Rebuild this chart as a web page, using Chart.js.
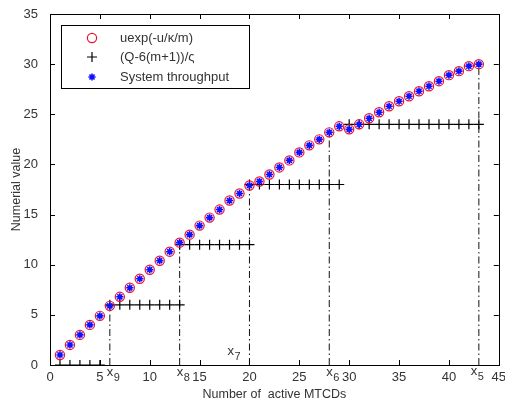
<!DOCTYPE html>
<html>
<head>
<meta charset="utf-8">
<script src="https://cdn.jsdelivr.net/npm/chart.js@4/dist/chart.umd.min.js"></script>
<style>
  body { margin: 0; background: #fff; }
  #wrap { width: 505px; height: 402px; }
</style>
</head>
<body>
<div id="wrap"><canvas id="chart"></canvas></div>
<script>
const mtcdCount = [1, 2, 3, 4, 5, 6, 7, 8, 9, 10, 11, 12, 13, 14, 15, 16, 17, 18, 19, 20, 21, 22,
    23, 24, 25, 26, 27, 28, 29, 30, 31, 32, 33, 34, 35, 36, 37, 38, 39, 40, 41, 42, 43];
const uexpValues = [1.0, 2.0, 3.0, 4.0, 4.9, 5.9, 6.8, 7.7, 8.6, 9.5, 10.4, 11.3, 12.2, 13.0, 13.9,
    14.7, 15.5, 16.4, 17.1, 17.9, 18.3, 19.0, 19.7, 20.4, 21.2, 21.9, 22.5, 23.2, 23.8, 23.5,
    24.0, 24.6, 25.2, 25.8, 26.3, 26.8, 27.3, 27.8, 28.3, 28.9, 29.3, 29.8, 30.0];
const throughputValues = [1.0, 2.0, 3.0, 4.0, 4.9, 5.9, 6.8, 7.7, 8.6, 9.5, 10.4, 11.3, 12.2, 13.0, 13.9,
    14.7, 15.5, 16.4, 17.1, 17.9, 18.3, 19.0, 19.7, 20.4, 21.2, 21.9, 22.5, 23.2, 23.8, 23.5,
    24.0, 24.6, 25.2, 25.8, 26.3, 26.8, 27.3, 27.8, 28.3, 28.9, 29.3, 29.8, 30.0];

// step function (Q-6(m+1))/ς
const stepCount = [1, 2, 3, 4, 5,
    6, 7, 8, 9, 10, 11, 12, 13,
    13, 14, 15, 16, 17, 18, 19, 20,
    20, 21, 22, 23, 24, 25, 26, 27, 28, 29,
    30, 31, 32, 33, 34, 35, 36, 37, 38, 39, 40, 41, 42, 43];
const stepValues = [0, 0, 0, 0, 0,
    6, 6, 6, 6, 6, 6, 6, 6,
    12, 12, 12, 12, 12, 12, 12, 12,
    18, 18, 18, 18, 18, 18, 18, 18, 18, 18,
    24, 24, 24, 24, 24, 24, 24, 24, 24, 24, 24, 24, 24, 24];

// thresholds x9 .. x5
const thresholdX = [6, 13, 20, 28, 43];
const thresholdTop = [6, 12, 18, 23.2, 30];
const thresholdNames = ['9', '8', '7', '6', '5'];

const xTicks = [0, 5, 10, 15, 20, 25, 30, 35, 40, 45];
const yTicks = [0, 5, 10, 15, 20, 25, 30, 35];

const legendLabels = ['uexp(-u/\u03ba/m)', '(Q-6(m+1))/\u03c2', 'System throughput'];

const FONT = "'Liberation Sans', Arial, sans-serif";
const TEXT = '#333';

const toPoints = (xs, ys) => xs.map((x, i) => ({ x: x, y: ys[i] }));

let datasets = [
    {
        label: legendLabels[2],
        data: toPoints(mtcdCount, throughputValues),
        showLine: false,
        pointStyle: 'star',
        pointRadius: 3.6,
        borderColor: '#1010ff',
        borderWidth: 1.6,
        order: 0
    },
    {
        label: legendLabels[0],
        data: toPoints(mtcdCount, uexpValues),
        showLine: false,
        pointStyle: 'circle',
        pointRadius: 4.6,
        borderColor: '#ee1030',
        backgroundColor: 'rgba(0,0,0,0)',
        borderWidth: 1.2,
        order: 1
    },
    {
        label: legendLabels[1],
        data: toPoints(stepCount, stepValues),
        showLine: false,
        pointStyle: 'cross',
        pointRadius: 5,
        borderColor: '#000',
        borderWidth: 1.2,
        order: 2
    }
];

thresholdX.forEach(function (x, i) {
    datasets.push({
        label: 'x' + thresholdNames[i],
        data: [{ x: x, y: 0 }, { x: x, y: thresholdTop[i] }],
        showLine: true,
        pointRadius: 0,
        borderColor: '#111',
        borderWidth: 1,
        borderDash: [7, 3, 1.5, 3],
        order: 3
    });
});

const matlabFrame = {
    id: 'matlabFrame',
    afterDraw(chart) {
        const ctx = chart.ctx;
        const a = chart.chartArea;
        const xs = chart.scales.x;
        const ys = chart.scales.y;
        ctx.save();
        ctx.strokeStyle = '#000';
        ctx.lineWidth = 1;
        ctx.strokeRect(Math.round(a.left) + 0.5, Math.round(a.top) + 0.5,
            Math.round(a.right - a.left), Math.round(a.bottom - a.top));

        // inward ticks on all four sides
        ctx.beginPath();
        xTicks.forEach(function (v) {
            const px = Math.round(xs.getPixelForValue(v)) + 0.5;
            ctx.moveTo(px, a.bottom); ctx.lineTo(px, a.bottom - 5);
            ctx.moveTo(px, a.top); ctx.lineTo(px, a.top + 5);
        });
        yTicks.forEach(function (v) {
            const py = Math.round(ys.getPixelForValue(v)) + 0.5;
            ctx.moveTo(a.left, py); ctx.lineTo(a.left + 5, py);
            ctx.moveTo(a.right, py); ctx.lineTo(a.right - 5, py);
        });
        ctx.stroke();

        // x9 .. x5 labels
        ctx.fillStyle = TEXT;
        ctx.textBaseline = 'alphabetic';
        thresholdX.forEach(function (x, i) {
            let px = xs.getPixelForValue(x) - 3;
            let py = a.bottom + 11;
            if (thresholdNames[i] === '7') { px = xs.getPixelForValue(x) - 22; py = a.bottom - 10; }
            if (thresholdNames[i] === '5') { px -= 5; py -= 1; }
            ctx.font = '13px ' + FONT;
            ctx.fillText('x', px, py);
            ctx.font = '11px ' + FONT;
            ctx.fillText(thresholdNames[i], px + 7, py + 5);
        });

        // legend box
        const lx = 61, ly = 25, lw = 188, lh = 63;
        ctx.fillStyle = '#fff';
        ctx.fillRect(lx, ly, lw, lh);
        ctx.strokeStyle = '#000';
        ctx.lineWidth = 1;
        ctx.strokeRect(lx + 0.5, ly + 0.5, lw, lh);
        const rows = [38, 57, 77];
        const mx = 92;
        // circle
        ctx.strokeStyle = '#ee1030';
        ctx.lineWidth = 1.2;
        ctx.beginPath();
        ctx.arc(mx, rows[0], 4.6, 0, Math.PI * 2);
        ctx.stroke();
        // cross
        ctx.strokeStyle = '#000';
        ctx.beginPath();
        ctx.moveTo(mx - 5, rows[1]); ctx.lineTo(mx + 5, rows[1]);
        ctx.moveTo(mx, rows[1] - 5); ctx.lineTo(mx, rows[1] + 5);
        ctx.stroke();
        // star
        ctx.strokeStyle = '#1010ff';
        ctx.lineWidth = 1.6;
        ctx.beginPath();
        for (let k = 0; k < 4; k++) {
            const ang = k * Math.PI / 4;
            ctx.moveTo(mx - 3.6 * Math.cos(ang), rows[2] - 3.6 * Math.sin(ang));
            ctx.lineTo(mx + 3.6 * Math.cos(ang), rows[2] + 3.6 * Math.sin(ang));
        }
        ctx.stroke();
        ctx.fillStyle = TEXT;
        ctx.font = '13px ' + FONT;
        ctx.textBaseline = 'middle';
        legendLabels.forEach(function (t, i) {
            ctx.fillText(t, 120, rows[i]);
        });
        ctx.restore();
    }
};

new Chart(document.getElementById('chart'), {
    type: 'scatter',
    data: { datasets: datasets },
    options: {
        responsive: true,
        maintainAspectRatio: false,
        animation: false,
        layout: { padding: { left: 0, right: 6, top: 14, bottom: 0 } },
        plugins: {
            legend: { display: false },
            tooltip: { enabled: false }
        },
        scales: {
            x: {
                type: 'linear',
                min: 0,
                max: 45,
                afterFit: function (scale) {
                    scale.height = 37;
                    scale.paddingRight = 0;
                    scale.paddingLeft = 0;
                },
                afterBuildTicks: function (scale) { scale.ticks = xTicks.map(v => ({ value: v })); },
                grid: { display: false },
                border: { display: false },
                ticks: { color: TEXT, padding: -3, maxRotation: 0, font: { family: FONT, size: 13 } },
                title: {
                    display: true,
                    text: 'Number of  active MTCDs',
                    color: TEXT,
                    padding: { top: 0, bottom: 0 },
                    font: { family: FONT, size: 12.5 }
                }
            },
            y: {
                type: 'linear',
                min: 0,
                max: 35,
                afterFit: function (scale) { scale.width = 50; },
                afterBuildTicks: function (scale) { scale.ticks = yTicks.map(v => ({ value: v })); },
                grid: { display: false },
                border: { display: false },
                ticks: { color: TEXT, padding: 4, font: { family: FONT, size: 13 } },
                title: {
                    display: true,
                    text: 'Numerial value',
                    color: TEXT,
                    padding: { top: 9, bottom: 0 },
                    font: { family: FONT, size: 12.5 }
                }
            }
        }
    },
    plugins: [matlabFrame]
});
</script>
</body>
</html>
